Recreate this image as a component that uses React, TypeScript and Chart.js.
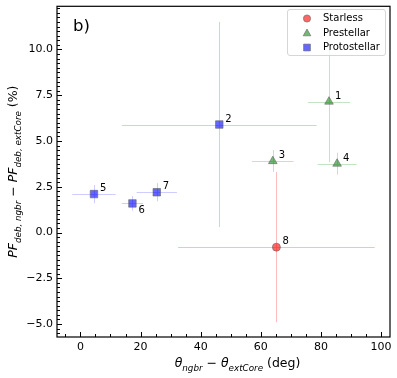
import React, { useEffect, useRef } from 'react';
import { Chart, registerables } from 'chart.js';
Chart.register(...registerables);

const W = 397;
const H = 378;
const FONT = '"DejaVu Sans", "Liberation Sans", sans-serif';

// ---- data ----
const pointIds = ['1', '2', '3', '4', '5', '6', '7', '8'];
const pointClass = ['Prestellar', 'Protostellar', 'Prestellar', 'Prestellar', 'Protostellar', 'Protostellar', 'Protostellar', 'Starless'];
const dTheta = [82.7, 46.2, 64.0, 85.4, 4.5, 17.3, 25.4, 65.2];
const dThetaErr = [7.0, 32.4, 6.9, 6.5, 7.2, 3.5, 6.7, 32.7];
const dPF = [7.15, 5.9, 3.9, 3.76, 2.1, 1.59, 2.2, -0.8];
const dPFErr = [3.3, 5.6, 0.6, 0.6, 0.5, 0.4, 0.5, 4.1];
const labelBelow = [false, false, false, false, false, true, false, false];

const classes = ['Starless', 'Prestellar', 'Protostellar'];
const classMarker = ['circle', 'triangle', 'rect'];
const classFill = ['rgba(255,0,0,0.6)', 'rgba(0,128,0,0.55)', 'rgba(0,0,255,0.6)'];
const classEdge = 'rgba(100,100,100,0.6)';
const classErr = ['#ffbcbc', '#c4e2c4', '#cdcdff'];

const xTicks = [0, 20, 40, 60, 80, 100];
const yTicks = [-5, -2.5, 0, 2.5, 5, 7.5, 10];
const xRange = [-7.8, 103];
const yRange = [-5.71, 12.36];
const xMinorStep = 5;
const yMinorStep = 0.25;

type Seg = { t: string; it?: boolean; sub?: boolean };
const xTitle: Seg[] = [
  { t: 'θ', it: true }, { t: 'ngbr', it: true, sub: true }, { t: ' − ' },
  { t: 'θ', it: true }, { t: 'extCore', it: true, sub: true }, { t: ' (deg)' },
];
const yTitle: Seg[] = [
  { t: 'PF', it: true }, { t: 'deb, ngbr', it: true, sub: true }, { t: ' − ' },
  { t: 'PF', it: true }, { t: 'deb, extCore', it: true, sub: true }, { t: ' (%)' },
];

function segFont(s: Seg, base: number) {
  const size = s.sub ? base * 0.7 : base;
  return `${s.it ? 'italic ' : ''}${size}px ${FONT}`;
}
function richWidth(ctx: CanvasRenderingContext2D, segs: Seg[], base: number) {
  let w = 0;
  for (const s of segs) { ctx.font = segFont(s, base); w += ctx.measureText(s.t).width; }
  return w;
}
function drawRich(ctx: CanvasRenderingContext2D, segs: Seg[], x: number, y: number, base: number) {
  for (const s of segs) {
    ctx.font = segFont(s, base);
    ctx.fillText(s.t, x, s.sub ? y + base * 0.28 : y);
    x += ctx.measureText(s.t).width;
  }
}
function marker(ctx: CanvasRenderingContext2D, kind: string, x: number, y: number, r: number) {
  ctx.beginPath();
  if (kind === 'circle') ctx.arc(x, y, r, 0, Math.PI * 2);
  else if (kind === 'triangle') {
    ctx.moveTo(x, y - r); ctx.lineTo(x + r * 0.95, y + r * 0.7); ctx.lineTo(x - r * 0.95, y + r * 0.7); ctx.closePath();
  } else ctx.rect(x - r, y - r, 2 * r, 2 * r);
}

const deco = {
  id: 'deco',
  beforeDatasetsDraw(chart: any) {
    const { ctx, scales: { x, y } } = chart;
    ctx.save();
    ctx.lineWidth = 1;
    for (let i = 0; i < pointIds.length; i++) {
      const c = classes.indexOf(pointClass[i]);
      ctx.strokeStyle = classErr[c];
      const px = Math.round(x.getPixelForValue(dTheta[i])) + 0.5;
      const py = Math.round(y.getPixelForValue(dPF[i])) + 0.5;
      ctx.beginPath();
      ctx.moveTo(x.getPixelForValue(dTheta[i] - dThetaErr[i]), py);
      ctx.lineTo(x.getPixelForValue(dTheta[i] + dThetaErr[i]), py);
      ctx.moveTo(px, y.getPixelForValue(dPF[i] + dPFErr[i]));
      ctx.lineTo(px, y.getPixelForValue(dPF[i] - dPFErr[i]));
      ctx.stroke();
    }
    ctx.restore();
  },
  afterDatasetsDraw(chart: any) {
    const { ctx, chartArea: a, scales: { x, y } } = chart;
    ctx.save();
    // point labels
    ctx.fillStyle = '#000';
    ctx.font = `10px ${FONT}`;
    ctx.textBaseline = 'middle';
    ctx.textAlign = 'left';
    for (let i = 0; i < pointIds.length; i++) {
      const px = x.getPixelForValue(dTheta[i]);
      const py = y.getPixelForValue(dPF[i]);
      ctx.fillText(pointIds[i], px + 6, py + (labelBelow[i] ? 7 : -5.5));
    }
    // frame
    ctx.strokeStyle = '#000';
    ctx.lineWidth = 1.2;
    ctx.strokeRect(a.left, a.top, a.right - a.left, a.bottom - a.top);
    // ticks (inward, left & bottom)
    ctx.lineWidth = 1;
    ctx.beginPath();
    for (let v = Math.ceil(xRange[0] / xMinorStep) * xMinorStep; v <= xRange[1]; v += xMinorStep) {
      const px = Math.round(x.getPixelForValue(v)) + 0.5;
      const len = xTicks.includes(v) ? 5 : 3;
      ctx.moveTo(px, a.bottom); ctx.lineTo(px, a.bottom - len);
    }
    for (let k = Math.ceil(yRange[0] / yMinorStep); k * yMinorStep <= yRange[1]; k++) {
      const v = k * yMinorStep;
      const py = Math.round(y.getPixelForValue(v)) + 0.5;
      const len = yTicks.some(t => Math.abs(t - v) < 1e-9) ? 5 : 3;
      ctx.moveTo(a.left, py); ctx.lineTo(a.left + len, py);
    }
    ctx.stroke();
    // axis titles
    ctx.fillStyle = '#000';
    ctx.textBaseline = 'alphabetic';
    const base = 12.5;
    const xw = richWidth(ctx, xTitle, base);
    drawRich(ctx, xTitle, 237.5 - xw / 2, 367, base);
    const yw = richWidth(ctx, yTitle, base);
    ctx.save();
    ctx.translate(17, (a.top + a.bottom) / 2);
    ctx.rotate(-Math.PI / 2);
    drawRich(ctx, yTitle, -yw / 2, 0, base);
    ctx.restore();
    // panel tag
    ctx.font = `16.5px ${FONT}`;
    ctx.fillText('b)', 73, 31);
    // legend
    ctx.fillStyle = 'rgba(255,255,255,0.8)';
    ctx.strokeStyle = 'rgba(204,204,204,0.8)';
    ctx.lineWidth = 1;
    ctx.beginPath();
    (ctx as any).roundRect(287.5, 9.5, 98, 46, 2.5);
    ctx.fill();
    ctx.stroke();
    const rowsY = [18.5, 33, 47.5];
    for (let c = 0; c < classes.length; c++) {
      ctx.fillStyle = classFill[c];
      ctx.strokeStyle = classEdge;
      marker(ctx, classMarker[c], 307, rowsY[c], c === 0 ? 3.6 : c === 1 ? 4 : 3.4);
      ctx.fill(); ctx.stroke();
      ctx.fillStyle = '#000';
      ctx.font = `10px ${FONT}`;
      ctx.textBaseline = 'middle';
      ctx.fillText(classes[c], 323, rowsY[c]);
    }
    ctx.restore();
  },
};

export default function App() {
  const ref = useRef<HTMLCanvasElement>(null);
  useEffect(() => {
    const canvas = ref.current!;
    const datasets = classes.map((cls, c) => ({
      label: cls,
      data: pointIds
        .map((_, i) => i)
        .filter(i => pointClass[i] === cls)
        .map(i => ({ x: dTheta[i], y: dPF[i] })),
      pointStyle: classMarker[c] as any,
      pointRadius: c === 0 ? 4 : c === 1 ? 5 : 5.3,
      backgroundColor: classFill[c],
      borderColor: classEdge,
      borderWidth: 1,
      showLine: false,
    }));
    const chart = new Chart(canvas, {
      type: 'scatter',
      data: { datasets },
      plugins: [deco],
      options: {
        responsive: false,
        animation: false,
        devicePixelRatio: 1,
        layout: { padding: { top: 4.5, right: 7, left: 0, bottom: 0 } },
        plugins: { legend: { display: false }, tooltip: { enabled: false } },
        scales: {
          x: {
            type: 'linear',
            min: xRange[0],
            max: xRange[1],
            grid: { display: false, drawTicks: false },
            border: { display: false },
            ticks: {
              font: { family: FONT, size: 11 },
              color: '#000',
              padding: 4,
              maxRotation: 0,
              autoSkip: false,
              callback: (v: any) => String(v),
            },
            afterBuildTicks: (s: any) => { s.ticks = xTicks.map(v => ({ value: v })); },
            afterFit: (s: any) => { s.height = 41; s.paddingLeft = 0; s.paddingRight = 0; },
          },
          y: {
            type: 'linear',
            min: yRange[0],
            max: yRange[1],
            grid: { display: false, drawTicks: false },
            border: { display: false },
            ticks: {
              font: { family: FONT, size: 11 },
              color: '#000',
              padding: 4,
              autoSkip: false,
              callback: (v: any) => (v < 0 ? '−' : '') + Math.abs(Number(v)).toFixed(1),
            },
            afterBuildTicks: (s: any) => { s.ticks = yTicks.map(v => ({ value: v })); },
            afterFit: (s: any) => { s.width = 57; s.paddingTop = 0; s.paddingBottom = 0; },
          },
        },
      } as any,
    });
    return () => chart.destroy();
  }, []);
  return (
    <div style={{ position: 'fixed', left: 0, top: 0, width: W, height: H, background: '#fff' }}>
      <canvas ref={ref} width={W} height={H} style={{ width: W, height: H, display: 'block' }} />
    </div>
  );
}
